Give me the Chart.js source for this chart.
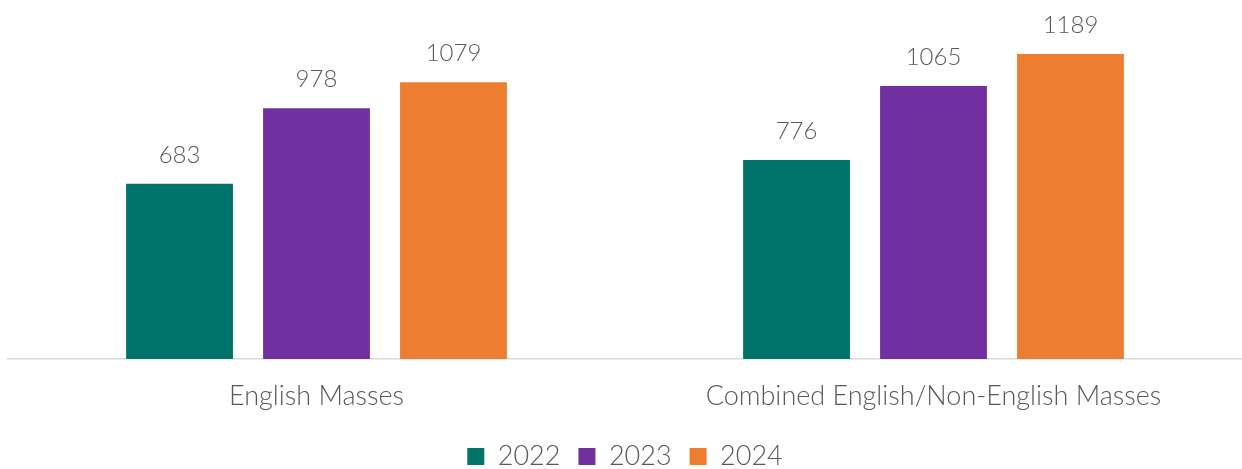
<!DOCTYPE html>
<html>
<head>
<meta charset="utf-8">
<script src="https://cdn.jsdelivr.net/npm/chart.js@4"></script>
<style>
    body { margin: 0; background: #fff; overflow: hidden; }
    #wrap { width: 1242px; height: 480px; position: relative; }
</style>
</head>
<body>
<div id="wrap"><canvas id="massChart"></canvas></div>
<script>
const categories = ['English Masses', 'Combined English/Non-English Masses'];
const years = ['2022', '2023', '2024'];
const values2022 = [683, 776];
const values2023 = [978, 1065];
const values2024 = [1079, 1189];
const colors = ['#00736B', '#70309F', '#ED7D31'];

const fontFamily = 'Lato, "Open Sans", sans-serif';
const textColor = '#595959';

// подписи значений над столбцами
const valueLabels = {
    id: 'valueLabels',
    afterDatasetsDraw(chart) {
        const ctx = chart.ctx;
        ctx.save();
        ctx.font = '300 24px ' + fontFamily;
        ctx.fillStyle = textColor;
        ctx.textAlign = 'center';
        ctx.textBaseline = 'bottom';
        chart.data.datasets.forEach((ds, i) => {
            chart.getDatasetMeta(i).data.forEach((bar, j) => {
                ctx.fillText(ds.data[j], bar.x, bar.y - 17);
            });
        });
        ctx.restore();
    }
};

const ctx = document.getElementById('massChart').getContext('2d');
new Chart(ctx, {
    type: 'bar',
    data: {
        labels: categories,
        datasets: [
            { label: years[0], data: values2022, backgroundColor: colors[0] },
            { label: years[1], data: values2023, backgroundColor: colors[1] },
            { label: years[2], data: values2024, backgroundColor: colors[2] }
        ]
    },
    options: {
        responsive: true,
        maintainAspectRatio: false,
        animation: false,
        barPercentage: 0.78,
        categoryPercentage: 0.666,
        layout: {
            padding: { left: 8, right: 0, top: 0, bottom: 0 }
        },
        scales: {
            y: {
                display: false,
                min: 0,
                max: 1400
            },
            x: {
                grid: { display: false },
                border: { color: '#d9d9d9', width: 1.5 },
                ticks: {
                    color: textColor,
                    padding: 13,
                    font: { family: fontFamily, size: 27, weight: '300' }
                },
                afterFit(scale) {
                    scale.height = 66;
                }
            }
        },
        plugins: {
            legend: {
                position: 'bottom',
                labels: {
                    boxWidth: 17,
                    boxHeight: 17,
                    color: textColor,
                    padding: 18,
                    font: { family: fontFamily, size: 27, weight: '300' }
                }
            },
            tooltip: { enabled: false }
        }
    },
    plugins: [valueLabels]
});
</script>
</body>
</html>
